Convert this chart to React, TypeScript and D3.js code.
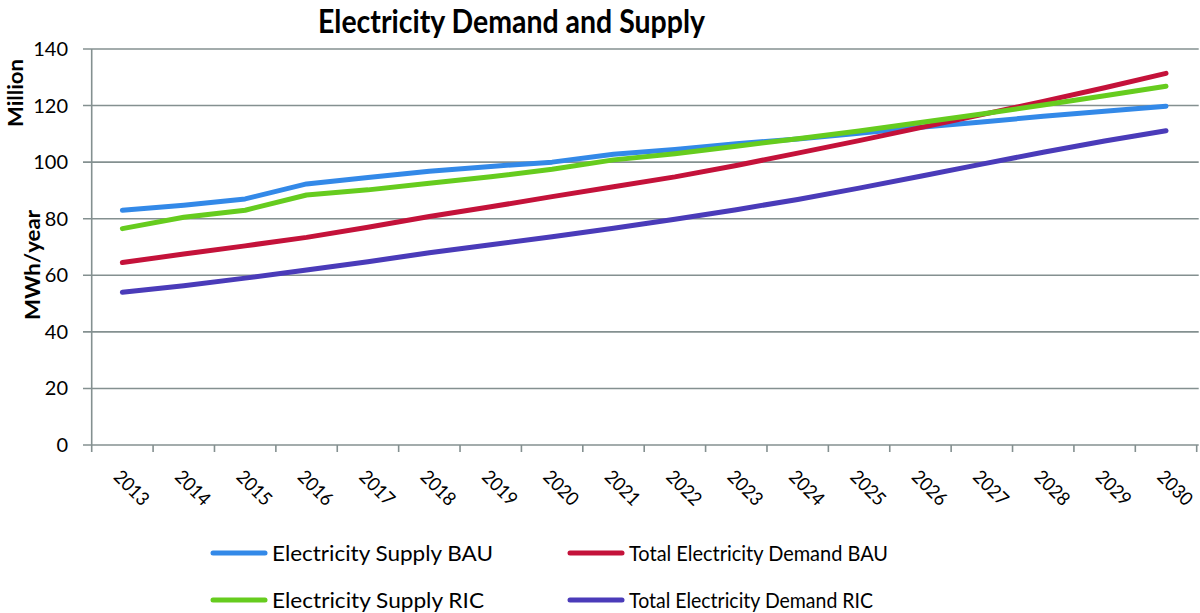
import React from "react";
import * as d3 from "d3";

const years = ["2013","2014","2015","2016","2017","2018","2019","2020","2021","2022","2023","2024","2025","2026","2027","2028","2029","2030"];
const supplyBAU = [83, 84.8, 87, 92.3, 94.6, 96.8, 98.5, 100, 102.8, 104.5, 106.5, 108.2, 110.2, 112.3, 114.2, 116.2, 118, 119.8];
const supplyRIC = [76.5, 80.5, 83, 88.4, 90.2, 92.5, 94.8, 97.5, 100.8, 103, 105.6, 108.3, 111, 114, 117, 120.2, 123.5, 126.8];
const demandBAU = [64.5, 67.5, 70.4, 73.4, 77, 80.8, 84.2, 87.8, 91.3, 94.8, 98.8, 103.2, 107.6, 112.2, 116.8, 121.5, 126.3, 131.4];
const demandRIC = [54, 56.3, 59, 61.9, 64.8, 68, 70.8, 73.6, 76.6, 79.8, 83.2, 86.8, 90.8, 95, 99.3, 103.5, 107.5, 111.1];
const yTicks = [0, 20, 40, 60, 80, 100, 120, 140];

const series = [
  { name: "Electricity Supply BAU", values: supplyBAU, color: "#3389e8" },
  { name: "Total Electricity Demand BAU", values: demandBAU, color: "#c4123a" },
  { name: "Electricity Supply RIC", values: supplyRIC, color: "#66cc1e" },
  { name: "Total Electricity Demand RIC", values: demandRIC, color: "#4a3bb9" },
];

const FONT = "Lato, 'Open Sans', sans-serif";
const GRID = "#849090";

export default function App() {
  const W = 1200, H = 613;
  const left = 91.7, right = 1196.7, top = 49, bottom = 445;
  const x = d3.scaleBand<string>().domain(years).range([left, right]).padding(0);
  const y = d3.scaleLinear().domain([0, 140]).range([bottom, top]);
  const cx = (i: number) => (x(years[i]) as number) + x.bandwidth() / 2;
  const line = d3.line<number>().x((_, i) => cx(i)).y((v) => y(v));

  const legendPos = [
    { lx: 213, ly: 553, tl: 221 },
    { lx: 570, ly: 553, tl: 259 },
    { lx: 213, ly: 600, tl: 212 },
    { lx: 570, ly: 600, tl: 244 },
  ];

  return (
    <svg width={W} height={H} style={{ position: "absolute", left: 0, top: 0, background: "#fff" }}>
      <rect width={W} height={H} fill="#fff" />
      <text x={318} y={33} fontFamily={FONT} fontWeight="bold" fontSize={33} textLength={387} lengthAdjust="spacingAndGlyphs" fill="#000">
        Electricity Demand and Supply
      </text>
      {yTicks.map((t) => (
        <g key={t}>
          <line x1={83} x2={right + 2} y1={y(t)} y2={y(t)} stroke={GRID} strokeWidth={1.6} />
          <text x={68} y={y(t) + 7} textAnchor="end" fontFamily={FONT} fontSize={20} fill="#000">{t}</text>
        </g>
      ))}
      <line x1={left} x2={left} y1={top} y2={bottom + 7} stroke={GRID} strokeWidth={1.6} />
      {years.map((yr, i) => {
        const tx = (x(yr) as number) + x.bandwidth();
        const c = cx(i);
        return (
          <g key={yr}>
            <line x1={tx} x2={tx} y1={bottom} y2={bottom + 7} stroke={GRID} strokeWidth={1.6} />
            <text transform={`translate(${c - 10},${478}) rotate(45)`} fontFamily={FONT} fontSize={19} textLength={41} lengthAdjust="spacingAndGlyphs" fill="#000">{yr}</text>
          </g>
        );
      })}
      <text transform={`translate(23,93) rotate(-90)`} textAnchor="middle" fontFamily={FONT} fontWeight="bold" fontSize={21} textLength={68} lengthAdjust="spacingAndGlyphs" fill="#000">Million</text>
      <text transform={`translate(40,265) rotate(-90)`} textAnchor="middle" fontFamily={FONT} fontWeight="bold" fontSize={21} textLength={110} lengthAdjust="spacingAndGlyphs" fill="#000">MWh/year</text>
      {series.map((s) => (
        <path key={s.name} d={line(s.values) || ""} fill="none" stroke={s.color} strokeWidth={5} strokeLinecap="round" strokeLinejoin="round" />
      ))}
      {series.map((s, i) => (
        <g key={s.name}>
          <line x1={legendPos[i].lx} x2={legendPos[i].lx + 52} y1={legendPos[i].ly} y2={legendPos[i].ly} stroke={s.color} strokeWidth={5} strokeLinecap="round" />
          <text x={legendPos[i].lx + 59} y={legendPos[i].ly + 8} fontFamily={FONT} fontSize={22} textLength={legendPos[i].tl} lengthAdjust="spacingAndGlyphs" fill="#000">{s.name}</text>
        </g>
      ))}
    </svg>
  );
}
